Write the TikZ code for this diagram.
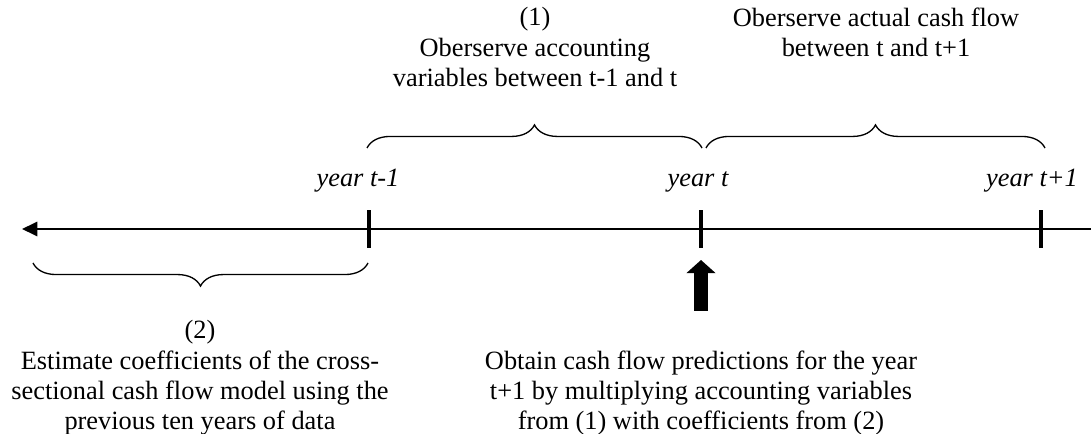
\documentclass[tikz,border=0pt]{standalone}
\usepackage{fontspec}
\setmainfont{Liberation Serif}
\usepackage{tikz}
\usetikzlibrary{arrows.meta, positioning, decorations.pathreplacing}

\begin{document}
\begin{tikzpicture}[x=0.455pt, y=0.455pt, every node/.style={font=\fontsize{12}{13.8}\selectfont}]
      \tikzset{
        yearmark/.style={rectangle, fill=black, minimum width=2pt, minimum height=17.5pt, inner sep=0pt},
        yearlbl/.style={font=\fontsize{12}{13.8}\selectfont\itshape, inner sep=0pt, anchor=base},
        note/.style={align=center, inner sep=0pt, anchor=north},
        timeline/.style={-{Triangle[length=7pt, width=6.5pt]}, line width=1pt},
        span/.style={decorate, decoration={brace, amplitude=10.5pt}, line width=0.6pt},
        push/.style={-{Triangle[length=6pt, width=13pt]}, line width=6.5pt}
      }
      \useasboundingbox (0,0) rectangle (1091,-434);

      % Nodes
      \node[yearmark] (tm1) at (369,-229) {};
      \node[yearmark] (t0) at (701,-229) {};
      \node[yearmark] (tp1) at (1041,-229) {};
      \coordinate (west) at (22,-229);
      \coordinate (east) at (1091,-229);

      \node[yearlbl] (ytm1) at (358,-187) {year t-1};
      \node[yearlbl] (yt0) at (698,-187) {year t};
      \node[yearlbl] (ytp1) at (1032,-187) {year t+1};

      \coordinate (b1l) at (367,-148);
      \coordinate (b1r) at (702,-148);
      \coordinate (b2l) at (706,-148);
      \coordinate (b2r) at (1045,-148);
      \coordinate (b3l) at (33,-263);
      \coordinate (b3r) at (368,-263);

      \node[note] (observe) at (535,-7) {(1)\\Oberserve accounting\\variables between t-1 and t};
      \node[note] (actual) at (876,-7) {Oberserve actual cash flow\\between t and t+1};
      \node[note] (estimate) at (200,-320) {(2)\\Estimate coefficients of the cross-\\sectional cash flow model using the\\previous ten years of data};
      \node[note] (obtain) at (701,-350) {Obtain cash flow predictions for the year\\t+1 by multiplying accounting variables\\from (1) with coefficients from (2)};

      \coordinate (pushfoot) at (701,-311);
      \coordinate (pushtip) at (701,-260);

      % Connections
      \draw[timeline] (east) -- (west);
      \draw[span] (b1l) -- (b1r);
      \draw[span] (b2l) -- (b2r);
      \draw[span] (b3r) -- (b3l);
      \draw[push] (pushfoot) -- (pushtip);

    \end{tikzpicture}
\end{document}
